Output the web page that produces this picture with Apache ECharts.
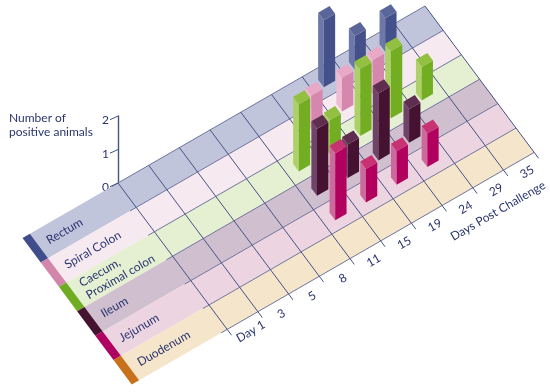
<!DOCTYPE html>
<html><head><meta charset="utf-8">
<script src="https://cdn.jsdelivr.net/npm/echarts@6/dist/echarts.min.js"></script>
<style>html,body{margin:0;padding:0;background:#fff}#c{width:550px;height:392px}</style>
</head><body><div id="c"></div>
<script>
const days = ['Day 1','3','5','8','11','15','19','24','29','35'];
const tissues = ['Rectum','Spiral Colon','Caecum,\nProximal colon','Ileum','Jejunum','Duodenum'];
const rectum   = [0,0,0,0,0,0,2,1,1,0];
const spiral   = [0,0,0,0,0,1,1,1,0,0];
const caecum   = [0,0,0,0,2,1,2,2,1,0];
const ileum    = [0,0,0,0,2,1,2,1,0,0];
const jejunum  = [0,0,0,0,2,1,1,1,0,0];
const duodenum = [0,0,0,0,0,0,0,0,0,0];
const yTicks = [0,1,2];
const seriesValues = [rectum,spiral,caecum,ileum,jejunum,duodenum];

const bandColors  = ['#c1c5dc','#f6e9f0','#e5efd2','#d0bfce','#edd4e1','#f5e5cb'];
const stripColors = ['#3f4d8c','#d186aa','#6fac22','#451230','#b00060','#c8701a'];
const leftFace  = ['#6b78a8','#f0bcd3','#aed068','#6f4468','#cc6a9c','#e09a50'];
const rightFace = ['#445089','#d587ad','#72ad22','#461232','#b2005e','#c8701a'];
const topFace   = ['#5a6699','#e8a8c6','#93c040','#5e2d50','#c93272','#d5853a'];
const ink = '#2a3570', gridInk = '#465384', rowInk = '#70759e';
const font = 'Lato, sans-serif';

// Oblique projection of the (day, tissue, value) space on the page
const SLOPE = -17.7/30.7, VX = 18.2, VY = 24.4;
function projector(api){
  const cell = api.size([1,0])[0];
  const o = api.coord([0,0]);
  const x0 = o[0]-cell/2, y0 = o[1];
  return (u,v,h)=>[x0+u*cell+v*VX, y0+u*cell*SLOPE+v*VY-(h||0)];
}
const ANGLE = Math.atan(17.7/30.7);

function renderBand(params, api){
  const P = projector(api), r = api.value(2);
  return {type:'group',children:[
    {type:'polygon',silent:true,shape:{points:[P(-2.87,r),P(10,r),P(10,r+1),P(-2.87,r+1)]},style:{fill:bandColors[r]}},
    {type:'polygon',silent:true,shape:{points:[P(-3.11,r),P(-2.87,r),P(-2.87,r+1),P(-3.11,r+1)]},style:{fill:stripColors[r]}},
    {type:'text',silent:true,x:P(-2.6,r+.5)[0],y:P(-2.6,r+.5)[1],rotation:ANGLE,
      style:{text:tissues[r],fill:ink,font:'12px '+font,align:'left',verticalAlign:'middle',lineHeight:14}}
  ]};
}
function renderGrid(params, api){
  const P = projector(api), i = params.dataIndex, kids = [];
  const line=(a,b,c,w)=>kids.push({type:'line',silent:true,shape:{x1:a[0],y1:a[1],x2:b[0],y2:b[1]},style:{stroke:c,lineWidth:w}});
  if(i===0){
    for(let v=0;v<=tissues.length;v++) line(P(-.2,v),P(days.length,v),rowInk,1);
    line(P(days.length,0),P(days.length,6.24),gridInk,1);
    const t=P(8.18,7.08);
    kids.push({type:'text',silent:true,x:t[0],y:t[1],rotation:ANGLE,style:{text:'Days Post Challenge',fill:ink,font:'12px '+font,align:'center',verticalAlign:'middle'}});
  }
  line(P(i,0),P(i,6.24),gridInk,1);
  const l=P(i+.5,6.45);
  kids.push({type:'text',silent:true,x:l[0],y:l[1],rotation:ANGLE,style:{text:days[i],fill:ink,font:'12px '+font,align:'center',verticalAlign:'middle'}});
  return {type:'group',children:kids};
}
function renderTick(params, api){
  const c = api.coord([0,api.value(1)]), cell = api.size([1,0])[0], x = c[0]-cell/2;
  return {type:'line',silent:true,shape:{x1:x,y1:c[1],x2:x-8,y2:c[1]+3.7},style:{stroke:gridInk,lineWidth:1}};
}
function renderBar(params, api){
  const P = projector(api), col = api.value(0), val = api.value(1), r = api.value(2);
  const h = api.coord([col,0])[1]-api.coord([col,val])[1];
  const du=.185, dv=.155, u=col+.5, v=r+.5;
  const F=(a,b,hh)=>P(u+a*du,v+b*dv,hh);
  return {type:'group',children:[
    {type:'polygon',silent:true,shape:{points:[F(-1,1,0),F(-1,-1,0),F(-1,-1,h),F(-1,1,h)]},style:{fill:leftFace[r]}},
    {type:'polygon',silent:true,shape:{points:[F(-1,1,0),F(1,1,0),F(1,1,h),F(-1,1,h)]},style:{fill:rightFace[r]}},
    {type:'polygon',silent:true,shape:{points:[F(-1,1,h),F(1,1,h),F(1,-1,h),F(-1,-1,h)]},style:{fill:topFace[r]}}
  ]};
}

const barData = [];
seriesValues.forEach((vals,r)=>vals.forEach((n,c)=>{ if(n>0) barData.push([c,n,r]); }));
barData.sort((a,b)=>(a[2]*VY+a[0]*SLOPE*30.7)-(b[2]*VY+b[0]*SLOPE*30.7));

const chart = echarts.init(document.getElementById('c'),null,{renderer:'canvas'});
chart.setOption({
  animation:false,
  backgroundColor:'#fff',
  title:{text:'Number of\npositive animals',left:9,top:111,padding:0,
    textStyle:{color:ink,fontFamily:font,fontSize:12,fontWeight:'normal',lineHeight:14}},
  grid:{left:118,top:116,width:307,height:67,containLabel:false},
  xAxis:{type:'category',data:days,show:false,boundaryGap:true},
  yAxis:{type:'value',min:0,max:2,interval:1,position:'left',
    axisLine:{show:true,lineStyle:{color:gridInk,width:1.4}},
    axisTick:{show:false},splitLine:{show:false},
    axisLabel:{color:ink,fontFamily:font,fontSize:12,margin:9,verticalAlign:'top',lineHeight:9}},
  tooltip:{show:false},
  series:[
    {type:'custom',name:'bands',z:1,renderItem:renderBand,encode:{x:0,y:1},data:tissues.map((t,r)=>[0,0,r])},
    {type:'custom',name:'grid',z:2,renderItem:renderGrid,encode:{x:0,y:1},data:days.map((d,i)=>[i,0])},
    {type:'custom',name:'ticks',z:3,renderItem:renderTick,encode:{x:0,y:1},data:yTicks.map(t=>[0,t])},
    {type:'custom',name:'bars',z:4,renderItem:renderBar,encode:{x:0,y:1},data:barData}
  ]
});
</script></body></html>
